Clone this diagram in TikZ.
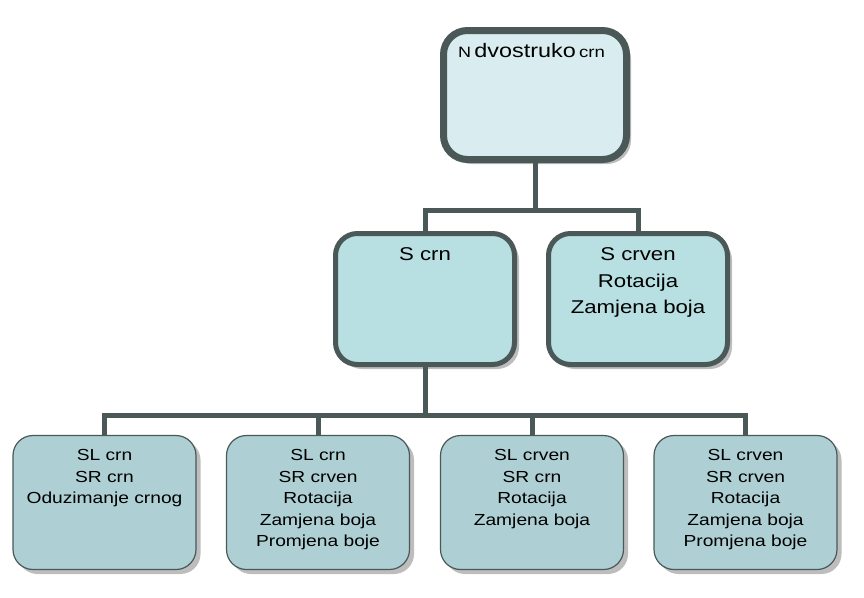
\documentclass[tikz,border=0pt]{standalone}
\usepackage{fontspec}
\setmainfont[FakeStretch=1.2]{Liberation Sans}
\usetikzlibrary{shadows}
\definecolor{bordc}{HTML}{4A5858}
\definecolor{topfill}{HTML}{D9EDF0}
\definecolor{midfill}{HTML}{B8DFE2}
\definecolor{botfill}{HTML}{AECFD3}
\definecolor{shadc}{HTML}{BDBDBD}
\tikzset{
  boxbase/.style={rectangle, draw=bordc, inner sep=0pt,
    drop shadow={shadow xshift=4.5pt, shadow yshift=-4.5pt, fill=shadc, opacity=1}},
  topbox/.style={boxbase, fill=topfill, line width=7pt, rounded corners=24pt,
    minimum width=183pt, minimum height=129pt},
  midbox/.style={boxbase, fill=midfill, line width=5pt, rounded corners=22pt,
    minimum width=179pt, minimum height=131pt},
  botbox/.style={boxbase, fill=botfill, line width=1.2pt, rounded corners=20pt,
    minimum width=183pt, minimum height=134pt},
  conn/.style={draw=bordc, line width=5pt},
  midtext/.style={anchor=north, align=center, inner sep=0pt,
    font=\fontsize{18.5}{26.5}\selectfont},
  bottext/.style={anchor=north, align=center, inner sep=0pt,
    font=\fontsize{16}{21.5}\selectfont},
}
\begin{document}
\begin{tikzpicture}[x=1pt, y=-1pt]
\useasboundingbox (0,0) rectangle (864,597);
\coordinate (j1) at (535,210);
\coordinate (j2) at (425,415);
\node[topbox] (top) at (535,95) {};
\node[midbox] (scrn) at (425,299) {};
\node[midbox] (scrven) at (638,299) {};
\node[botbox] (b1) at (104.5,502.5) {};
\node[botbox] (b2) at (318,502.5) {};
\node[botbox] (b3) at (532,502.5) {};
\node[botbox] (b4) at (745.5,502.5) {};
\draw[conn] (top.south) -- (j1);
\draw[conn] (scrn.north) |- (j1) -| (scrven.north);
\draw[conn] (scrn.south) -- (j2);
\draw[conn] (b1.north) |- (j2) -| (b4.north);
\draw[conn] (b2.north) -- (b2.north |- j2);
\draw[conn] (b3.north) -- (b3.north |- j2);
\node[anchor=base, inner sep=0pt] (ttop) at (531.5,57)
  {{\fontsize{15}{18}\selectfont N} {\fontsize{19.5}{23}\selectfont dvostruko} {\fontsize{15.5}{18}\selectfont crn}};
\node[midtext] (tscrn) at (425,247.5) {S crn};
\node[midtext] (tscrven) at (638,247.5) {S crven\\Rotacija\\Zamjena boja};
\node[bottext] (tb1) at (104.5,449.4) {SL crn\\SR crn\\Oduzimanje crnog};
\node[bottext] (tb2) at (318,449.4) {SL crn\\SR crven\\Rotacija\\Zamjena boja\\Promjena boje};
\node[bottext] (tb3) at (532,449.4) {SL crven\\SR crn\\Rotacija\\Zamjena boja};
\node[bottext] (tb4) at (745.5,449.4) {SL crven\\SR crven\\Rotacija\\Zamjena boja\\Promjena boje};
\end{tikzpicture}
\end{document}
